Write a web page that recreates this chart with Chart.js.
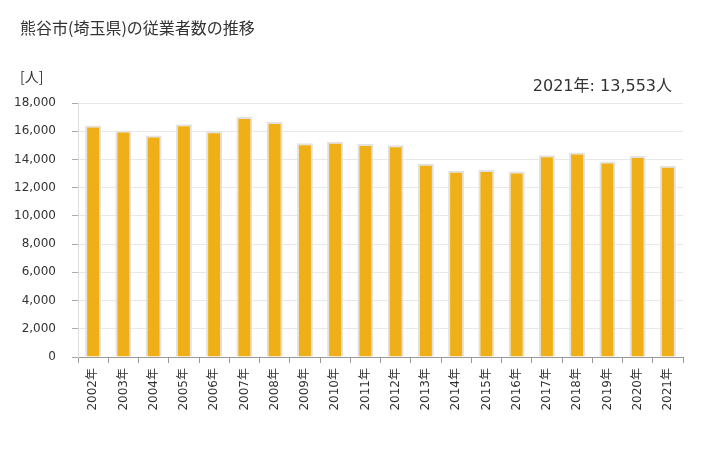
<!DOCTYPE html>
<html>
<head>
<meta charset="utf-8">
<script src="https://cdn.jsdelivr.net/npm/chart.js@4/dist/chart.umd.min.js"></script>
<style>
  html, body { margin: 0; padding: 0; background: #fff; }
  #wrap { width: 728px; height: 450px; position: relative; }
</style>
</head>
<body>
<div id="wrap"><canvas id="myBarChart" width="728" height="450"></canvas></div>
<script>
var years = ['2002年','2003年','2004年','2005年','2006年','2007年','2008年','2009年','2010年','2011年',
             '2012年','2013年','2014年','2015年','2016年','2017年','2018年','2019年','2020年','2021年'];
var workers = [16400, 16050, 15700, 16500, 16000, 17000, 16650, 15150, 15250, 15100,
               15000, 13700, 13200, 13250, 13150, 14300, 14500, 13850, 14250, 13553];
var yTicks = [0, 2000, 4000, 6000, 8000, 10000, 12000, 14000, 16000, 18000];
var chartTitle = '熊谷市(埼玉県)の従業者数の推移';
var unitLabel = '[人]';
var latestNote = '2021年: 13,553人';

var jpFont = '"DejaVu Sans", "Noto Sans CJK JP", sans-serif';
var titleFont = '"Noto Sans CJK JP", sans-serif';

// testi fuori dal grafico (titolo, unità, ultimo valore)
var textPlugin = {
  id: 'extraText',
  afterDraw: function (chart) {
    var ctx = chart.ctx;
    ctx.save();
    ctx.fillStyle = '#333';
    ctx.textBaseline = 'middle';
    ctx.font = '16px ' + titleFont;
    ctx.textAlign = 'left';
    ctx.fillText(chartTitle, 20, 28);
    ctx.font = '14px ' + titleFont;
    ctx.fillText(unitLabel, 20, 77);
    ctx.font = '16px ' + jpFont;
    ctx.textAlign = 'right';
    ctx.fillText(latestNote, 672, 87);
    ctx.restore();
  }
};

var myBarChart = new Chart(document.getElementById('myBarChart'), {
  type: 'bar',
  data: {
    labels: years,
    datasets: [{
      data: workers,
      backgroundColor: '#EEB016',
      borderColor: '#e2e2e2',
      borderWidth: 2,
      barPercentage: 0.53,
      categoryPercentage: 1
    }]
  },
  options: {
    responsive: false,
    animation: false,
    layout: { padding: { top: 103, left: 12, right: 45, bottom: 0 } },
    plugins: {
      legend: { display: false },
      title: { display: false },
      tooltip: { enabled: false }
    },
    scales: {
      x: {
        afterFit: function (scale) { scale.height = 93; },
        grid: { display: true, drawOnChartArea: false, drawTicks: true, tickLength: 6, color: '#999', offset: true },
        border: { display: true, color: '#999' },
        ticks: {
          minRotation: 90,
          maxRotation: 90,
          autoSkip: false,
          padding: 5,
          color: '#333',
          font: { size: 12, family: jpFont }
        }
      },
      y: {
        min: 0,
        max: 18000,
        afterFit: function (scale) { scale.width = 66; },
        afterBuildTicks: function (scale) {
          scale.ticks = yTicks.map(function (v) { return { value: v }; });
        },
        grid: { color: '#e8e8e8', drawTicks: true, tickLength: 6, tickColor: '#aaa' },
        border: { display: true, color: '#dddddd' },
        ticks: {
          padding: 16,
          color: '#333',
          font: { size: 12, family: jpFont },
          callback: function (v) { return v.toLocaleString('en-US'); }
        }
      }
    }
  },
  plugins: [textPlugin]
});
</script>
</body>
</html>
